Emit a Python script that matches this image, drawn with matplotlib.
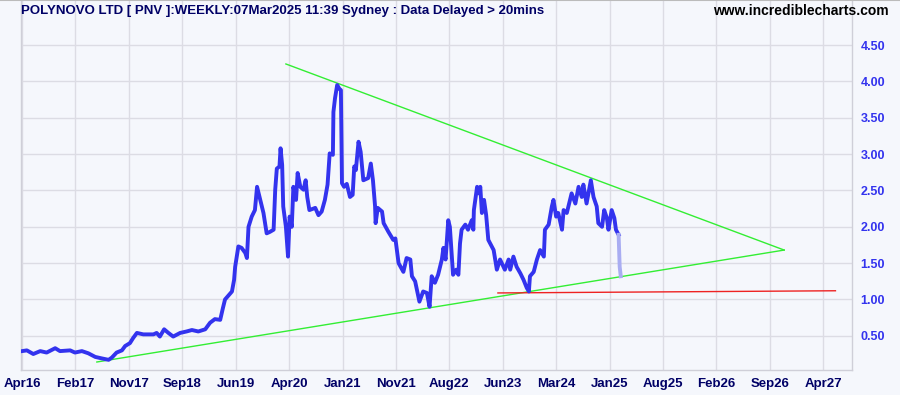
import numpy as np
import matplotlib.pyplot as plt

plt.rcParams['font.family'] = ['Liberation Sans', 'DejaVu Sans']

# x positions are in axis periods (one period = one date label)
x_labels = ['Apr16', 'Feb17', 'Nov17', 'Sep18', 'Jun19', 'Apr20', 'Jan21', 'Nov21',
            'Aug22', 'Jun23', 'Mar24', 'Jan25', 'Aug25', 'Feb26', 'Sep26', 'Apr27']
y_ticks = [0.5, 1.0, 1.5, 2.0, 2.5, 3.0, 3.5, 4.0, 4.5]

pos = [0.00, 0.09, 0.21, 0.34, 0.46, 0.62, 0.71, 0.90, 0.99, 1.12, 1.24, 1.37, 1.49, 1.62,
       1.68, 1.77, 1.87, 1.93, 2.02, 2.08, 2.15, 2.27, 2.46, 2.52, 2.58, 2.66, 2.74, 2.83,
       2.96, 3.08, 3.18, 3.30, 3.43, 3.52, 3.61, 3.71, 3.76, 3.80, 3.86, 3.93, 3.97, 3.99,
       4.05, 4.11, 4.18, 4.21, 4.24, 4.30, 4.36, 4.40, 4.46, 4.52, 4.58, 4.64, 4.71, 4.74,
       4.77, 4.82, 4.84, 4.87, 4.89, 4.94, 4.98, 5.01, 5.05, 5.08, 5.13, 5.16, 5.21, 5.27,
       5.31, 5.34, 5.38, 5.49, 5.55, 5.61, 5.67, 5.72, 5.76, 5.82, 5.83, 5.86, 5.90, 5.94,
       5.97, 5.99, 6.03, 6.08, 6.14, 6.19, 6.22, 6.25, 6.30, 6.34, 6.39, 6.48, 6.53, 6.57,
       6.61, 6.62, 6.66, 6.74, 6.77, 6.86, 6.95, 6.99, 7.05, 7.14, 7.20, 7.27, 7.30, 7.36,
       7.44, 7.51, 7.58, 7.63, 7.67, 7.73, 7.79, 7.86, 7.89, 7.93, 7.98, 8.01, 8.07, 8.13,
       8.17, 8.20, 8.23, 8.30, 8.35, 8.42, 8.45, 8.46, 8.52, 8.55, 8.58, 8.61, 8.65, 8.69,
       8.73, 8.83, 8.89, 8.95, 9.04, 9.11, 9.14, 9.20, 9.26, 9.33, 9.39, 9.45, 9.49, 9.51,
       9.58, 9.64, 9.70, 9.77, 9.79, 9.86, 9.92, 9.95, 10.00, 10.04, 10.11, 10.14, 10.20,
       10.29, 10.36, 10.42, 10.48, 10.51, 10.57, 10.65, 10.70, 10.76, 10.79, 10.86, 10.90,
       10.95, 10.98, 11.04, 11.09, 11.12, 11.17, 11.19, 11.21]
price = [0.29, 0.30, 0.25, 0.29, 0.27, 0.33, 0.29, 0.30, 0.27, 0.29, 0.26, 0.21, 0.19, 0.17,
         0.20, 0.27, 0.30, 0.36, 0.40, 0.47, 0.54, 0.52, 0.52, 0.54, 0.49, 0.59, 0.54, 0.49,
         0.54, 0.56, 0.58, 0.56, 0.59, 0.68, 0.73, 0.72, 0.88, 1.00, 1.05, 1.11, 1.27, 1.45,
         1.73, 1.71, 1.64, 1.57, 2.00, 2.14, 2.23, 2.55, 2.37, 2.19, 1.91, 1.93, 1.96, 2.51,
         2.80, 2.83, 3.08, 2.85, 2.28, 2.00, 1.59, 2.14, 2.00, 2.55, 2.37, 2.74, 2.55, 2.51,
         2.64, 2.41, 2.23, 2.26, 2.16, 2.21, 2.37, 2.58, 3.01, 2.99, 3.58, 3.77, 3.95, 3.90,
         3.88, 2.60, 2.55, 2.59, 2.41, 2.44, 2.83, 2.78, 3.17, 3.03, 2.64, 2.67, 2.87, 2.64,
         2.28, 2.05, 2.26, 2.21, 2.05, 1.93, 1.82, 1.84, 1.50, 1.38, 1.57, 1.55, 1.32, 1.25,
         0.97, 1.11, 1.09, 0.90, 1.32, 1.23, 1.34, 1.55, 1.71, 1.55, 2.09, 2.00, 1.34, 1.41,
         1.34, 1.77, 1.96, 2.03, 1.96, 2.09, 1.96, 2.23, 2.55, 2.46, 2.55, 2.19, 2.37, 2.16,
         1.82, 1.68, 1.41, 1.55, 1.41, 1.55, 1.41, 1.59, 1.45, 1.36, 1.27, 1.16, 1.11, 1.32,
         1.38, 1.55, 1.68, 1.59, 1.96, 2.03, 2.28, 2.37, 2.14, 2.19, 1.96, 2.23, 2.19,
         2.46, 2.32, 2.55, 2.41, 2.58, 2.32, 2.64, 2.41, 2.28, 2.05, 2.00, 2.23,
         2.12, 1.96, 2.23, 2.12, 1.96, 1.89, 1.45, 1.32]

# trendlines (start, end)
upper_x, upper_y = [4.94, 14.27], [4.24, 1.68]
lower_x, lower_y = [1.40, 14.27], [0.14, 1.68]
support_x, support_y = [8.91, 15.23], [1.09, 1.12]

bg = '#f5f7fc'
fig = plt.figure(figsize=(9, 3.95), dpi=100, facecolor=bg)
ax = fig.add_axes([21 / 900, 25 / 395, 831 / 900, 370 / 395], facecolor=bg)

ax.plot(pos[:-2], price[:-2], color='#3333ee', lw=2.8, solid_joinstyle='round', zorder=3)
ax.plot(pos[-3:], price[-3:], color='#a9adf2', lw=2.8, zorder=3)
ax.plot(upper_x, upper_y, color='#33ee33', lw=1, zorder=2)
ax.plot(lower_x, lower_y, color='#33ee33', lw=1, zorder=2)
ax.plot(support_x, support_y, color='#ee2222', lw=1, zorder=2)

ax.set_xlim(-0.02, 15.54)
ax.set_ylim(0.03, 5.12)
ax.set_xticks(range(len(x_labels)))
ax.set_xticklabels(x_labels, fontsize=9.5, fontweight='bold', color='#000066')
ax.set_yticks(y_ticks)
ax.set_yticklabels([f'{v:.2f}' for v in y_ticks], fontsize=9, fontweight='bold', color='#3333ee')
ax.yaxis.tick_right()
ax.tick_params(axis='both', length=0)
ax.tick_params(axis='y', pad=6)
ax.tick_params(axis='x', pad=6)
ax.grid(True, color='#dcdce4', lw=1)
ax.set_axisbelow(True)
for side, sp in ax.spines.items():
    sp.set_color('#cfcfd8')
    sp.set_linewidth(1)
ax.spines['top'].set_visible(False)

fig.text(21 / 900, 1 - 11 / 395, 'POLYNOVO LTD [ PNV ]:WEEKLY:07Mar2025 11:39 Sydney : Data Delayed > 20mins',
         fontsize=9.5, fontweight='bold', color='#000066', va='center', ha='left')
fig.text(889 / 900, 1 - 11 / 395, 'www.incrediblecharts.com', fontsize=10, fontweight='bold',
         color='black', va='center', ha='right')
fig.add_artist(plt.Line2D([0, 1], [0.999, 0.999], color='#bbbbbb', lw=1.5))

fig.savefig('out.png', dpi=100, facecolor=bg)
